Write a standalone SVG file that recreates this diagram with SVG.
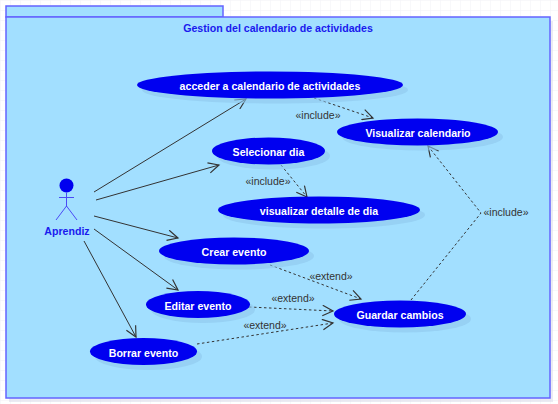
<svg xmlns="http://www.w3.org/2000/svg" width="558" height="404" viewBox="0 0 558 404">
<defs>
<pattern id="grid" width="10" height="10" patternUnits="userSpaceOnUse"><path d="M10 0H0V10" fill="none" stroke="#f1f1f6" stroke-width="1"/></pattern>
<marker id="open" markerUnits="userSpaceOnUse" markerWidth="14" markerHeight="12" refX="10" refY="5" orient="auto" viewBox="0 0 12 10"><path d="M1 0.5L10 5L1 9.500" fill="none" stroke="#333" stroke-width="1"/></marker>
</defs>
<style>
.pkg{fill:#a2dfff;stroke:#6464ff;stroke-width:1.500}
.shadow{fill:#8fc8ec;opacity:.6}
.uc{fill:#0000f0}
.uct{font:bold 10.600px "Liberation Sans",Arial,sans-serif;fill:#fff;text-anchor:middle}
.ttl{font:bold 10.600px "Liberation Sans",Arial,sans-serif;fill:#1a1aee;text-anchor:middle}
.lbl{font:10.500px "Liberation Sans",Arial,sans-serif;fill:#333;text-anchor:middle}
.a{fill:none;stroke:#333;stroke-width:1;marker-end:url(#open)}
.d{fill:none;stroke:#333;stroke-width:1;stroke-dasharray:2.500 2.500}
.ad{marker-end:url(#open)}
.act{fill:none;stroke:#4a4af5;stroke-width:1}
</style>
<rect width="558" height="404" fill="#fff"/>
<rect width="558" height="404" fill="url(#grid)"/>
<g id="package">
<rect x="9" y="21" width="544" height="381" fill="#d8d8e8" opacity=".5"/>
<rect class="pkg" x="6" y="6" width="217" height="11"/>
<rect class="pkg" x="6" y="17" width="544" height="381"/>
<text class="ttl" x="278" y="32">Gestion del calendario de actividades</text>
</g>
<g id="connectors">
<path class="a" d="M94 192L246 99"/>
<path class="a" d="M96 200L219 165"/>
<path class="a" d="M94 216L178 238"/>
<path class="a" d="M94 229L178 290"/>
<path class="a" d="M84 241L136 337"/>
<path class="d ad" d="M314 98L373 118"/>
<path class="d ad" d="M281 165L307 197"/>
<path class="d ad" d="M270 265L361 299"/>
<path class="d ad" d="M249 307L333 311"/>
<path class="d ad" d="M197 344L333 323"/>
<path class="d ad" d="M411 300L481 213L428 146"/>
<text class="lbl" x="318" y="119">«include»</text>
<text class="lbl" x="268" y="185">«include»</text>
<text class="lbl" x="506" y="216">«include»</text>
<text class="lbl" x="331" y="280">«extend»</text>
<text class="lbl" x="293" y="302">«extend»</text>
<text class="lbl" x="265" y="329">«extend»</text>
</g>
<g id="actor-aprendiz">
<circle cx="66.500" cy="185.500" r="7" fill="#0000f0"/>
<path class="act" d="M66.500 192.500V207M59 197.500H74M66.500 206L56 220M66.500 206L77 220"/>
<text class="ttl" x="67" y="235">Aprendiz</text>
</g>
<g id="uc-acceder"><ellipse class="shadow" cx="275" cy="90" rx="133" ry="13.500"/><ellipse class="uc" cx="270" cy="85" rx="133" ry="13.500"/><text class="uct" x="270" y="90">acceder a calendario de actividades</text></g>
<g id="uc-visualizar-calendario"><ellipse class="shadow" cx="422.500" cy="137" rx="80.500" ry="13.500"/><ellipse class="uc" cx="417.500" cy="132" rx="80.500" ry="13.500"/><text class="uct" x="418" y="137">Visualizar calendario</text></g>
<g id="uc-selecionar"><ellipse class="shadow" cx="273.500" cy="156" rx="56.500" ry="13.500"/><ellipse class="uc" cx="268.500" cy="151" rx="56.500" ry="13.500"/><text class="uct" x="268.500" y="156">Selecionar dia</text></g>
<g id="uc-detalle"><ellipse class="shadow" cx="324" cy="215" rx="101" ry="13.500"/><ellipse class="uc" cx="319" cy="210" rx="101" ry="13.500"/><text class="uct" x="319" y="215">visualizar detalle de dia</text></g>
<g id="uc-crear"><ellipse class="shadow" cx="239" cy="256" rx="75" ry="13.500"/><ellipse class="uc" cx="234" cy="251" rx="75" ry="13.500"/><text class="uct" x="234" y="256">Crear evento</text></g>
<g id="uc-editar"><ellipse class="shadow" cx="203" cy="309.500" rx="52" ry="13.500"/><ellipse class="uc" cx="198" cy="304.500" rx="52" ry="13.500"/><text class="uct" x="198" y="309.500">Editar evento</text></g>
<g id="uc-borrar"><ellipse class="shadow" cx="148.500" cy="356.500" rx="53.500" ry="13.500"/><ellipse class="uc" cx="143.500" cy="351.500" rx="53.500" ry="13.500"/><text class="uct" x="143.500" y="356.500">Borrar evento</text></g>
<g id="uc-guardar"><ellipse class="shadow" cx="405" cy="319" rx="66" ry="13.500"/><ellipse class="uc" cx="400" cy="314" rx="66" ry="13.500"/><text class="uct" x="400" y="319">Guardar cambios</text></g>
</svg>
